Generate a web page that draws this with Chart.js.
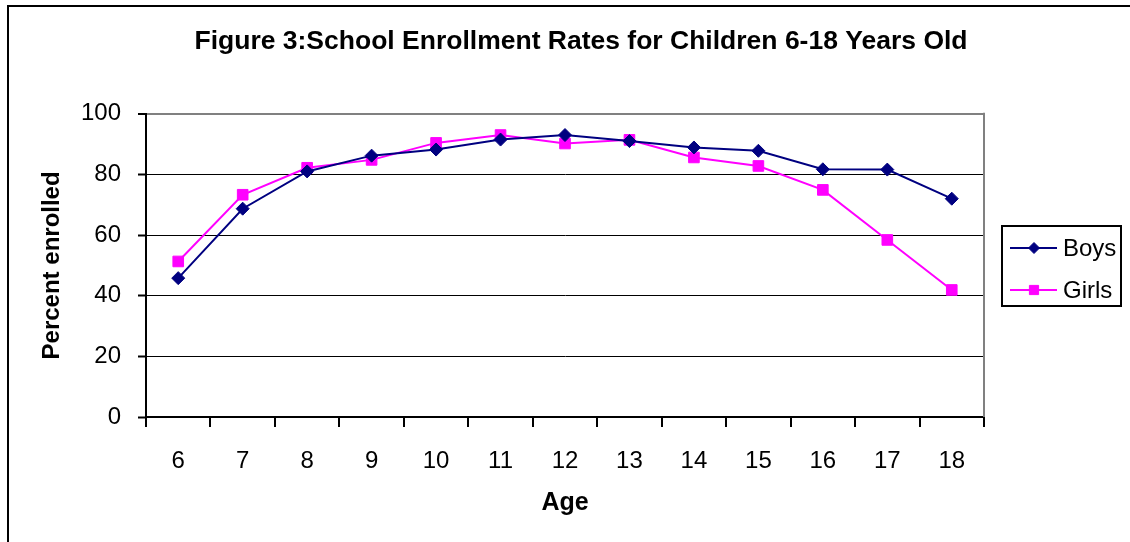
<!DOCTYPE html>
<html>
<head>
<meta charset="utf-8">
<script src="https://cdn.jsdelivr.net/npm/chart.js@4.4.1/dist/chart.umd.min.js"></script>
<style>
html, body { margin: 0; padding: 0; background: #fff; }
canvas { display: block; }
</style>
</head>
<body>
<canvas id="c" width="1130" height="542"></canvas>
<script>
const ages = ['6', '7', '8', '9', '10', '11', '12', '13', '14', '15', '16', '17', '18'];
const boys = [45.8, 68.7, 81.0, 86.2, 88.2, 91.5, 93.0, 91.0, 88.9, 87.8, 81.7, 81.6, 72.0];
const girls = [51.3, 73.3, 82.2, 84.8, 90.4, 93.0, 90.2, 91.4, 85.6, 82.8, 74.9, 58.4, 41.9];
const seriesNames = ['Boys', 'Girls'];
const titleText = 'Figure 3:School Enrollment Rates for Children 6-18 Years Old';
const yTitle = 'Percent enrolled';
const xTitle = 'Age';

const FONT = "'Liberation Sans', Arial, sans-serif";

const framePlugin = {
  id: 'frame',
  beforeDatasetsDraw(chart) {
    const ctx = chart.ctx, a = chart.chartArea;
    ctx.save();
    ctx.strokeStyle = '#808080';
    ctx.lineWidth = 2;
    ctx.beginPath();
    ctx.moveTo(a.right, a.top - 1);
    ctx.lineTo(a.right, a.bottom);
    ctx.stroke();
    ctx.restore();
  },
  afterDraw(chart) {
    const ctx = chart.ctx;
    ctx.save();
    ctx.strokeStyle = '#000';
    ctx.lineWidth = 2;
    ctx.beginPath();
    ctx.moveTo(8, 542);
    ctx.lineTo(8, 6);
    ctx.lineTo(1130, 6);
    ctx.stroke();
    const box = { x: 1002, y: 226, w: 119, h: 80 };
    ctx.strokeRect(box.x, box.y, box.w, box.h);
    const rows = [248, 290];
    chart.data.datasets.forEach((ds, i) => {
      const y = rows[i];
      ctx.strokeStyle = ds.borderColor;
      ctx.lineWidth = ds.borderWidth;
      ctx.beginPath();
      ctx.moveTo(1010, y);
      ctx.lineTo(1057, y);
      ctx.stroke();
      ctx.fillStyle = ds.pointBackgroundColor;
      ctx.strokeStyle = ds.pointBorderColor;
      ctx.lineWidth = 1;
      Chart.helpers.drawPoint(ctx, { pointStyle: ds.pointStyle, radius: ds.pointRadius - 1, borderWidth: 1, rotation: 0 }, 1034, y);
      ctx.fillStyle = '#000';
      ctx.font = '24px ' + FONT;
      ctx.textBaseline = 'middle';
      ctx.textAlign = 'left';
      ctx.fillText(ds.label, 1063, y + 1);
    });
    ctx.restore();
  }
};

new Chart(document.getElementById('c'), {
  type: 'line',
  data: {
    labels: ages,
    datasets: [
      {
        label: seriesNames[0],
        data: boys,
        borderColor: '#000080',
        backgroundColor: '#000080',
        borderWidth: 2,
        pointStyle: 'rectRot',
        pointRadius: 6.5,
        pointBackgroundColor: '#000080',
        pointBorderColor: '#000080',
        pointBorderWidth: 1,
        tension: 0,
        yAxisID: 'y'
      },
      {
        label: seriesNames[1],
        data: girls,
        borderColor: '#FF00FF',
        backgroundColor: '#FF00FF',
        borderWidth: 2,
        pointStyle: 'rect',
        pointRadius: 7.5,
        pointBackgroundColor: '#FF00FF',
        pointBorderColor: '#FF00FF',
        pointBorderWidth: 1,
        tension: 0,
        yAxisID: 'y'
      }
    ]
  },
  options: {
    responsive: false,
    animation: false,
    devicePixelRatio: 1,
    layout: { padding: { left: 32, right: 0, top: 0, bottom: 0 } },
    plugins: {
      legend: { display: false },
      tooltip: { enabled: false },
      title: {
        display: true,
        text: titleText,
        color: '#000',
        font: { family: FONT, size: 26.5, weight: 'bold', lineHeight: 1.2 },
        padding: { top: 26, bottom: 56 }
      }
    },
    scales: {
      x: {
        type: 'category',
        offset: true,
        afterFit(s) { s.height = 125; },
        grid: {
          offset: true,
          drawOnChartArea: false,
          drawTicks: true,
          tickLength: 10,
          color: '#000',
          tickColor: '#000',
          tickWidth: 2,
          lineWidth: 2
        },
        border: { display: true, color: '#000', width: 2 },
        ticks: {
          color: '#000',
          font: { family: FONT, size: 24 },
          padding: 20,
          maxRotation: 0,
          autoSkip: false
        },
        title: {
          display: true,
          text: xTitle,
          color: '#000',
          font: { family: FONT, size: 25, weight: 'bold', lineHeight: 1.2 },
          padding: { top: 0, bottom: 24 }
        }
      },
      y: {
        position: 'left',
        min: 0,
        max: 100,
        afterFit(s) { s.width = 114; },
        grid: {
          drawTicks: true,
          tickLength: 8,
          tickColor: '#000',
          tickWidth: 2,
          color: (c) => (c.tick && c.tick.value === 100 ? '#808080' : '#000'),
          lineWidth: (c) => (c.tick && c.tick.value === 100 ? 2 : 1)
        },
        border: { display: true, color: '#000', width: 2 },
        ticks: {
          stepSize: 20,
          color: '#000',
          font: { family: FONT, size: 24 },
          padding: 17
        },
        title: {
          display: true,
          text: yTitle,
          color: '#000',
          font: { family: FONT, size: 24, weight: 'bold', lineHeight: 1.2 },
          padding: { top: 6, bottom: 0 }
        }
      },
      yr: {
        position: 'right',
        min: 0,
        max: 100,
        afterFit(s) { s.width = 146; },
        grid: { display: false, drawTicks: false },
        border: { display: false },
        ticks: { display: false }
      }
    }
  },
  plugins: [framePlugin]
});
</script>
</body>
</html>
